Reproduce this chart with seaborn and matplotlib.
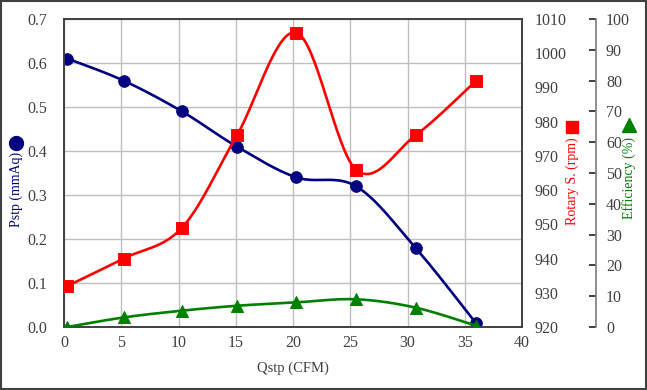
import numpy as np
import pandas as pd
import matplotlib
matplotlib.use("Agg")
import matplotlib.pyplot as plt
from matplotlib.patches import Rectangle
import seaborn as sns

# values
qstp = [0.3, 5.2, 10.3, 15.1, 20.3, 25.5, 30.7, 36.0]
pstp = [0.61, 0.56, 0.49, 0.41, 0.34, 0.32, 0.18, 0.008]
rotary = [932, 940, 949, 976, 1006, 966, 976, 992]
efficiency = [0.0, 3.1, 5.3, 6.9, 8.0, 9.0, 6.3, 0.4]

x_ticks = [0, 5, 10, 15, 20, 25, 30, 35, 40]
p_ticks = [0.0, 0.1, 0.2, 0.3, 0.4, 0.5, 0.6, 0.7]
r_ticks = [920, 930, 940, 950, 960, 970, 980, 990, 1000, 1010]
e_ticks = [0, 10, 20, 30, 40, 50, 60, 70, 80, 90, 100]

NAVY, RED, GREEN = "#000080", "#FF0000", "#008000"
TXT = "#404040"


def smooth(xs, ys, xr, yr, n=40):
    # Excel-style smoothed line: bezier segments with catmull-rom tangents
    px = np.asarray(xs, float) / xr * 458
    py = np.asarray(ys, float) / yr * 308
    P = np.column_stack([px, py])
    pts = []
    for i in range(len(P) - 1):
        p0 = P[i - 1] if i > 0 else P[i]
        p1, p2 = P[i], P[i + 1]
        p3 = P[i + 2] if i + 2 < len(P) else P[i + 1]
        b1 = p1 + (p2 - p0) / 6
        b2 = p2 - (p3 - p1) / 6
        t = np.linspace(0, 1, n)[:, None]
        seg = ((1 - t) ** 3) * p1 + 3 * ((1 - t) ** 2) * t * b1 + 3 * (1 - t) * t ** 2 * b2 + t ** 3 * p2
        pts.append(seg if i == 0 else seg[1:])
    s = np.vstack(pts)
    return pd.DataFrame({"x": s[:, 0] * xr / 458, "y": s[:, 1] * yr / 308})


sns.set_theme(style="white")
plt.rcParams["font.family"] = ["Liberation Serif", "DejaVu Serif"]

fig = plt.figure(figsize=(6.47, 3.9), dpi=100)
ax = fig.add_axes([64 / 647, 63 / 390, 458 / 647, 308 / 390])
ax2 = ax.twinx()
ax3 = ax.twinx()

# grid
ax.set_xlim(0, 40)
ax.set_ylim(0, 0.7)
ax.set_xticks(x_ticks)
ax.set_yticks(p_ticks)
ax.set_yticklabels([f"{v:.1f}" for v in p_ticks])
ax.grid(True, color="#BFBFBF", linewidth=1)
ax.set_axisbelow(True)

# Pstp
cp = smooth(qstp, pstp, 40, 0.7)
sns.lineplot(data=cp, x="x", y="y", ax=ax, color=NAVY, linewidth=1.9, sort=False, estimator=None)
sns.scatterplot(x=qstp, y=pstp, ax=ax, color=NAVY, marker="o", s=70, edgecolor=NAVY, zorder=5)

# Rotary speed
ax2.set_ylim(920, 1010)
ax2.set_yticks(r_ticks)
cr = smooth(qstp, np.array(rotary) - 920, 40, 90)
cr["y"] = cr["y"] + 920
sns.lineplot(data=cr, x="x", y="y", ax=ax2, color=RED, linewidth=1.9, sort=False, estimator=None)
sns.scatterplot(x=qstp, y=rotary, ax=ax2, color=RED, marker="s", s=70, edgecolor=RED, zorder=5)

# Efficiency
ax3.set_ylim(0, 100)
ax3.set_yticks(e_ticks)
ce = smooth(qstp, efficiency, 40, 100)
sns.lineplot(data=ce, x="x", y="y", ax=ax3, color=GREEN, linewidth=1.9, sort=False, estimator=None)
sns.scatterplot(x=qstp, y=efficiency, ax=ax3, color=GREEN, marker="^", s=75, edgecolor=GREEN, zorder=5)

for a in (ax, ax2, ax3):
    a.set_xlabel("")
    a.set_ylabel("")

ax.tick_params(axis="y", length=0, labelsize=11.5, labelcolor=TXT, pad=12)
ax.tick_params(axis="x", length=0, labelsize=11.5, labelcolor=TXT, pad=6)
ax2.tick_params(axis="y", length=0, labelsize=11.5, labelcolor=TXT, pad=9)
ax3.spines["right"].set_position(("axes", 1.162))
ax3.spines["right"].set_color("#808080")
ax3.tick_params(axis="y", direction="in", length=5, width=1.2, color="#202020",
                labelsize=11.5, labelcolor=TXT, pad=7)
for s in ("top", "left", "bottom"):
    ax3.spines[s].set_visible(False)

for a in (ax, ax2):
    for sp in a.spines.values():
        sp.set_color("#404040")
        sp.set_linewidth(1.2)

# axis titles with their marker keys
fig.text(293 / 647, 22 / 390, "Qstp (CFM)", ha="center", va="center", fontsize=10.5, color=TXT)
fig.text(16 / 647, 1 - 152 / 390, "Pstp (mmAq)", rotation=90, ha="center", va="top", fontsize=10, color=NAVY)
fig.text(572 / 647, 1 - 137 / 390, "Rotary S. (rpm)", rotation=90, ha="center", va="top", fontsize=10, color=RED)
fig.text(629 / 647, 1 - 137 / 390, "Efficiency (%)", rotation=90, ha="center", va="top", fontsize=10, color=GREEN)
fig.add_artist(plt.Line2D([16 / 647], [1 - 143 / 390], marker="o", markersize=10, color=NAVY, transform=fig.transFigure))
fig.add_artist(plt.Line2D([572 / 647], [1 - 127 / 390], marker="s", markersize=9, color=RED, transform=fig.transFigure))
fig.add_artist(plt.Line2D([629 / 647], [1 - 125 / 390], marker="^", markersize=10, color=GREEN, transform=fig.transFigure))

# outer border
fig.patches.append(Rectangle((0.002, 0.003), 0.996, 0.994, transform=fig.transFigure,
                             fill=False, edgecolor="#404040", linewidth=1.5))

fig.savefig("out.png", dpi=100)
